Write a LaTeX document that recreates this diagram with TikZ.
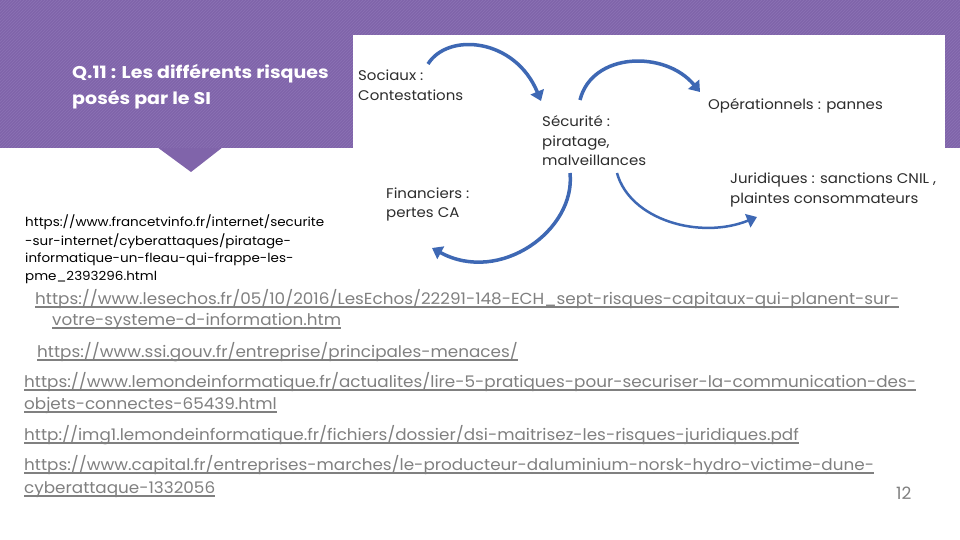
\documentclass[tikz,border=0pt]{standalone}
\usepackage{fontspec}
\setmainfont{Poppins}
\newfontfamily\titlefont{Poppins}[FakeStretch=1.12]
\newfontfamily\lblfont{Poppins}[FakeStretch=1.07]
\newfontfamily\urlfont{Poppins}[FakeStretch=1.08]
\newfontfamily\lnkfont{Poppins}[FakeStretch=1.05]
\usetikzlibrary{arrows.meta,patterns}
\definecolor{bandpurple}{RGB}{128,100,170}
\definecolor{stripecol}{RGB}{140,114,180}
\definecolor{arrowblue}{RGB}{62,104,180}
\definecolor{linkgray}{RGB}{128,128,128}
\definecolor{labelgray}{RGB}{45,45,45}
\tikzset{
  titletext/.style={anchor=base west, inner sep=0pt, text=white, font=\titlefont\bfseries\fontsize{17}{20}\selectfont},
  lbl/.style={anchor=base west, inner sep=0pt, text=labelgray, font=\lblfont\fontsize{14}{17}\selectfont},
  srcurl/.style={anchor=base west, inner sep=0pt, text=black, font=\urlfont\fontsize{12.5}{15}\selectfont},
  lnk/.style={anchor=base west, inner sep=0pt, text=linkgray, font=\lnkfont\fontsize{16}{19}\selectfont},
  arr/.style={draw=arrowblue, line width=3.5pt, -{Triangle[length=10pt,width=14pt]}},
}
\newcommand{\lk}[1]{\setbox0\hbox{#1}\rlap{\color{linkgray}\rule[-3.5pt]{\wd0}{1.3pt}}\box0}
\begin{document}
\begin{tikzpicture}[x=1pt,y=-1pt]
\useasboundingbox (0,0) rectangle (960,540);
% purple band with notch
\fill[bandpurple] (0,0) rectangle (960,148);
\fill[bandpurple] (157,147) -- (223,147) -- (191,172) -- cycle;
\fill[pattern=north east lines, pattern color=stripecol] (0,0) rectangle (960,148);
% white picture
\fill[white] (353,35) rectangle (945,280);
% title
\node[titletext] (t1) at (72,79) {Q.11 : Les différents risques};
\node[titletext] (t2) at (72,105) {posés par le SI};
% diagram labels
\node[lbl] (soc1) at (358,81) {Sociaux :};
\node[lbl] (soc2) at (358,101) {Contestations};
\node[lbl] (sec1) at (542,127) {Sécurité :};
\node[lbl] (sec2) at (542,147) {piratage,};
\node[lbl] (sec3) at (542,166) {malveillances};
\node[lbl] (ope) at (708,110) {Opérationnels : pannes};
\node[lbl] (fin1) at (386,198) {Financiers :};
\node[lbl] (fin2) at (386,217) {pertes CA};
\node[lbl] (jur1) at (730,183) {Juridiques : sanctions CNIL ,};
\node[lbl] (jur2) at (730,203) {plaintes consommateurs};
% arrows
\coordinate (a1s) at (428,64);
\coordinate (a1e) at (541,101);
\coordinate (a2s) at (580,100);
\coordinate (a2e) at (700,92);
\coordinate (a3s) at (570,173);
\coordinate (a3e) at (432,248);
\coordinate (a4s) at (617,173);
\coordinate (a4e) at (757,217);
\draw[arr] (a1s) .. controls (448,32) and (515,38) .. (a1e);
\draw[arr] (a2s) .. controls (592,52) and (665,50) .. (a2e);
\draw[arr] (a3s) .. controls (576,230) and (500,285) .. (a3e);
\draw[arr, line width=2.5pt] (a4s) .. controls (630,220) and (700,240) .. (a4e);
% source url
\node[srcurl] (u1) at (25,226) {https://www.francetvinfo.fr/internet/securite};
\node[srcurl] (u2) at (25,245) {-sur-internet/cyberattaques/piratage-};
\node[srcurl] (u3) at (25,262) {informatique-un-fleau-qui-frappe-les-};
\node[srcurl] (u4) at (25,280) {pme\_2393296.html};
% links
\node[lnk] (l1a) at (35,304) {\lk{https://www.lesechos.fr/05/10/2016/LesEchos/22291-148-ECH\_sept-risques-capitaux-qui-planent-sur-}};
\node[lnk] (l1b) at (52,325) {\lk{votre-systeme-d-information.htm}};
\node[lnk] (l2) at (37,357) {\lk{https://www.ssi.gouv.fr/entreprise/principales-menaces/}};
\node[lnk] (l3a) at (24,387) {\lk{https://www.lemondeinformatique.fr/actualites/lire-5-pratiques-pour-securiser-la-communication-des-}};
\node[lnk] (l3b) at (24,409) {\lk{objets-connectes-65439.html}};
\node[lnk] (l4) at (24,440) {\lk{http://img1.lemondeinformatique.fr/fichiers/dossier/dsi-maitrisez-les-risques-juridiques.pdf}};
\node[lnk] (l5a) at (24,470) {\lk{https://www.capital.fr/entreprises-marches/le-producteur-daluminium-norsk-hydro-victime-dune-}};
\node[lnk] (l5b) at (24,493) {\lk{cyberattaque-1332056}};
\node[anchor=base west, inner sep=0pt, text=linkgray, font=\fontsize{17}{20}\selectfont] (pg) at (896,499) {12};
\end{tikzpicture}
\end{document}
